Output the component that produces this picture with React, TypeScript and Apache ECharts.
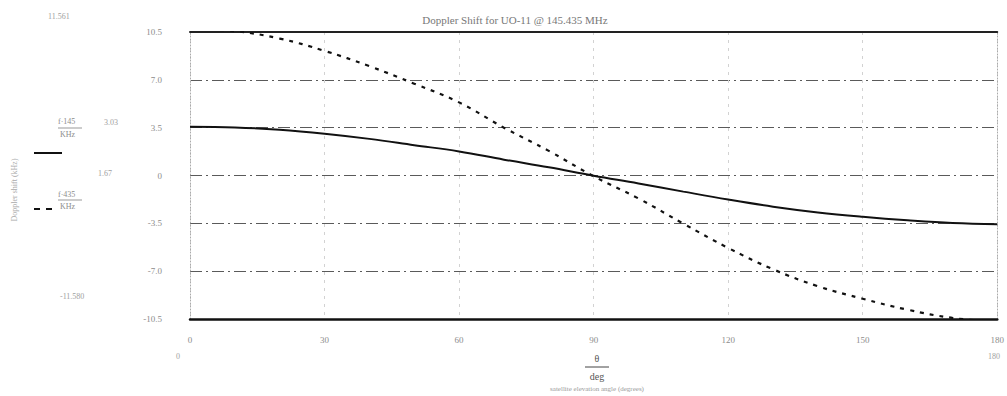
import React, { useEffect, useRef } from "react";
import * as echarts from "echarts";

const thetaDeg = [0, 10, 20, 30, 40, 50, 60, 70, 80, 90, 100, 110, 120, 130, 140, 150, 160, 170, 180];
const f145kHz = [3.57, 3.52, 3.35, 3.06, 2.68, 2.22, 1.76, 1.16, 0.6, -0.02, -0.58, -1.18, -1.76, -2.28, -2.7, -3.02, -3.28, -3.48, -3.56];
const f435kHz = [10.72, 10.56, 10.02, 9.12, 8.0, 6.72, 5.35, 3.5, 1.8, -0.05, -1.68, -3.52, -5.3, -6.86, -8.1, -9.02, -9.82, -10.42, -10.72];
const yTickLabels: Record<string, string> = {
  "10.5": "10.5",
  "7": "7.0",
  "3.5": "3.5",
  "0": "0",
  "-3.5": "-3.5",
  "-7": "-7.0",
  "-10.5": "-10.5",
};
const titleText = "Doppler Shift for UO-11 @ 145.435 MHz";

export default function App() {
  const ref = useRef<HTMLDivElement>(null);
  useEffect(() => {
    if (!ref.current) return;
    const chart = echarts.init(ref.current, undefined, { renderer: "svg" });
    const serif = "Liberation Serif";
    const grey = "#8c8c8c";
    const light = "#a0a0a0";
    chart.setOption({
      animation: false,
      backgroundColor: "#ffffff",
      textStyle: { fontFamily: serif },
      title: {
        text: titleText,
        left: 510,
        top: 9,
        textAlign: "center",
        textStyle: { fontFamily: serif, fontSize: 11, fontWeight: "normal", color: "#777" },
      },
      grid: { left: 190, right: 4, top: 32, bottom: 77 },
      xAxis: [
        {
          type: "value",
          min: 0,
          max: 180,
          interval: 30,
          position: "bottom",
          axisLine: { show: true, onZero: false, lineStyle: { color: "#111", width: 2.5 } },
          axisTick: { show: false },
          axisLabel: { color: grey, fontSize: 9, margin: 16, fontFamily: serif },
          splitLine: { show: true, lineStyle: { color: "#d2d2d2", type: [3, 5], width: 1 } },
        },
        {
          type: "value",
          min: 0,
          max: 180,
          position: "top",
          axisLine: { show: true, onZero: false, lineStyle: { color: "#222", width: 2 } },
          axisTick: { show: false },
          axisLabel: { show: false },
          splitLine: { show: false },
        },
      ],
      yAxis: [
        {
          type: "value",
          min: -10.5,
          max: 10.5,
          interval: 3.5,
          axisLine: { show: true, onZero: false, lineStyle: { color: "#aaa", type: [1, 2], width: 1 } },
          axisTick: { show: false },
          axisLabel: {
            color: grey,
            fontSize: 9,
            margin: 28,
            fontFamily: serif,
            formatter: (v: number) => yTickLabels[String(+v.toFixed(1))] ?? "",
          },
          splitLine: { show: true, lineStyle: { color: "#5a5a5a", type: [12, 4, 2, 4], width: 1 } },
        },
        {
          type: "value",
          min: -10.5,
          max: 10.5,
          interval: 3.5,
          position: "right",
          axisLine: { show: true, onZero: false, lineStyle: { color: "#aaa", type: [1, 2], width: 1 } },
          axisTick: { show: false },
          axisLabel: { show: false },
          splitLine: { show: false },
        },
      ],
      series: [
        {
          name: "f145",
          type: "line",
          xAxisIndex: 0,
          yAxisIndex: 0,
          smooth: 0.4,
          showSymbol: false,
          clip: true,
          lineStyle: { color: "#111", width: 2 },
          data: thetaDeg.map((t, i) => [t, f145kHz[i]]),
        },
        {
          name: "f435",
          type: "line",
          xAxisIndex: 0,
          yAxisIndex: 0,
          smooth: 0.4,
          showSymbol: false,
          clip: true,
          lineStyle: { color: "#111", width: 2.2, type: [4, 6] },
          data: thetaDeg.map((t, i) => [t, f435kHz[i]]),
        },
      ],
      graphic: [
        { type: "text", left: 48, top: 12, style: { text: "11.561", fill: light, font: `8px ${serif}` } },
        { type: "text", left: 60, top: 292, style: { text: "-11.580", fill: light, font: `8px ${serif}` } },
        {
          type: "text",
          x: 14,
          y: 190,
          rotation: Math.PI / 2,
          style: { text: "Doppler shift (kHz)", fill: "#aaa", font: `8px ${serif}`, align: "center", verticalAlign: "middle" },
        },
        { type: "text", left: 58, top: 117, style: { text: "f·145", fill: grey, font: `8px ${serif}` } },
        { type: "line", shape: { x1: 58, y1: 128, x2: 82, y2: 128 }, style: { stroke: "#999", lineWidth: 1 } },
        { type: "text", left: 60, top: 130, style: { text: "KHz", fill: grey, font: `8px ${serif}` } },
        { type: "text", left: 104, top: 118, style: { text: "3.03", fill: light, font: `8px ${serif}` } },
        { type: "line", shape: { x1: 34, y1: 153, x2: 62, y2: 153 }, style: { stroke: "#111", lineWidth: 2 } },
        { type: "text", left: 98, top: 169, style: { text: "1.67", fill: light, font: `8px ${serif}` } },
        { type: "text", left: 58, top: 190, style: { text: "f·435", fill: grey, font: `8px ${serif}` } },
        { type: "line", shape: { x1: 58, y1: 200, x2: 82, y2: 200 }, style: { stroke: "#999", lineWidth: 1 } },
        { type: "text", left: 60, top: 202, style: { text: "KHz", fill: grey, font: `8px ${serif}` } },
        { type: "line", shape: { x1: 34, y1: 209, x2: 58, y2: 209 }, style: { stroke: "#111", lineWidth: 2, lineDash: [6, 6] } },
        { type: "text", left: 176, top: 352, style: { text: "0", fill: light, font: `8px ${serif}` } },
        { type: "text", left: 988, top: 352, style: { text: "180", fill: light, font: `8px ${serif}` } },
        { type: "text", x: 597, y: 358, style: { text: "θ", fill: "#555", font: `10px ${serif}`, align: "center", verticalAlign: "middle" } },
        { type: "line", shape: { x1: 585, y1: 367, x2: 609, y2: 367 }, style: { stroke: "#444", lineWidth: 1 } },
        { type: "text", x: 597, y: 376, style: { text: "deg", fill: "#555", font: `10px ${serif}`, align: "center", verticalAlign: "middle" } },
        {
          type: "text",
          x: 597,
          y: 389,
          style: { text: "satellite elevation angle (degrees)", fill: "#999", font: `7px ${serif}`, align: "center", verticalAlign: "middle" },
        },
      ],
    });
    return () => chart.dispose();
  }, []);
  return <div ref={ref} style={{ width: 1007, height: 396, position: "absolute", left: 0, top: 0 }} />;
}
